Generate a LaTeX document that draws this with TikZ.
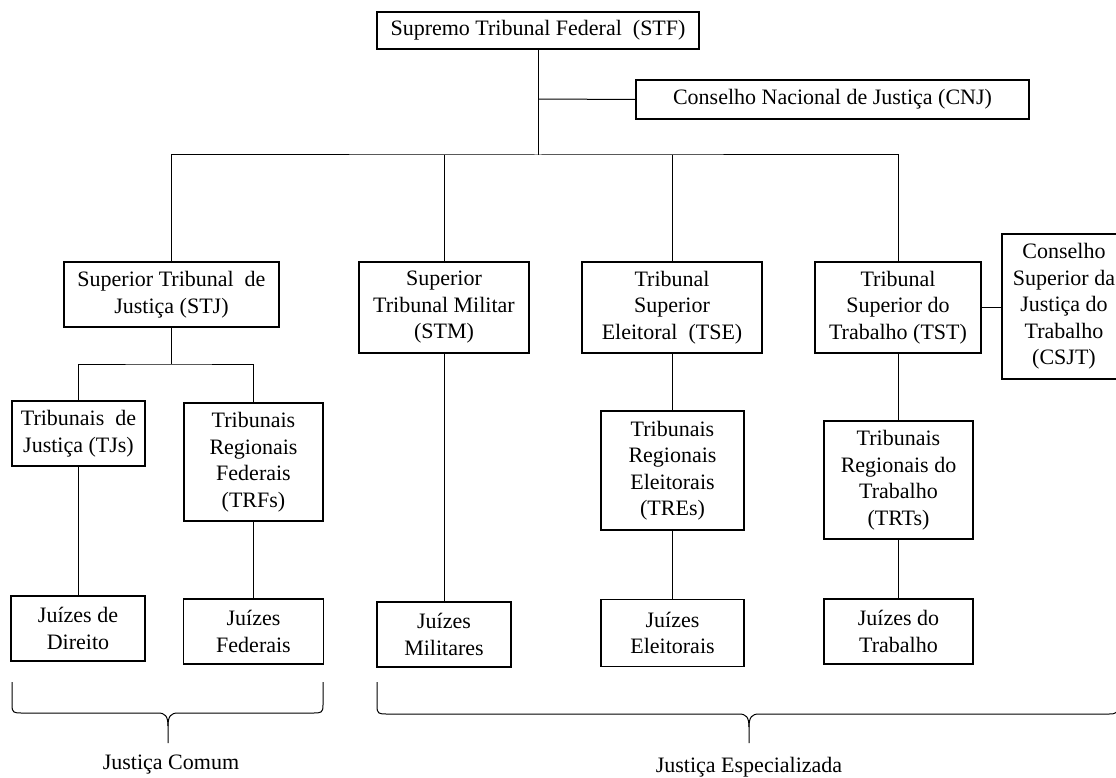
\documentclass[tikz,border=0pt]{standalone}
\usepackage{fontspec}
\setmainfont{Liberation Serif}
\begin{document}
\begin{tikzpicture}[x=1pt,y=-1pt,
  box/.style={draw, line width=1.1pt, align=center, inner sep=0pt, font=\fontsize{22}{26.5}\selectfont},
  conn/.style={line width=1pt},
  lbl/.style={inner sep=0pt, font=\fontsize{22}{26.5}\selectfont}]
\useasboundingbox (0,0) rectangle (1116,778);
\clip (0,0) rectangle (1116,778);
% level 0
\node[box, minimum width=322pt, minimum height=37pt] (STF) at (538,30.5) {Supremo Tribunal Federal\ \ (STF)};
\node[box, minimum width=393pt, minimum height=39pt] (CNJ) at (832.5,99.5) {Conselho Nacional de Justiça (CNJ)};
% level 1
\node[box, minimum width=215pt, minimum height=65pt] (STJ) at (171.5,294.5) {Superior Tribunal\ \ de\\Justiça (STJ)};
\node[box, minimum width=170pt, minimum height=91pt] (STM) at (444,307.5) {Superior\\Tribunal Militar\\(STM)};
\node[box, minimum width=180pt, minimum height=91pt] (TSE) at (672,307.5) {Tribunal\\Superior\\Eleitoral\ \ (TSE)};
\node[box, minimum width=166pt, minimum height=91pt] (TST) at (898,307.5) {Tribunal\\Superior do\\Trabalho (TST)};
\node[box, minimum width=124pt, minimum height=145pt] (CSJT) at (1064,306.5) {Conselho\\Superior da\\Justiça do\\Trabalho\\(CSJT)};
% level 2
\node[box, minimum width=133pt, minimum height=65pt] (TJs) at (78.5,433.5) {Tribunais\ \ de\\Justiça (TJs)};
\node[box, minimum width=139pt, minimum height=118pt] (TRFs) at (253.5,462) {Tribunais\\Regionais\\Federais\\(TRFs)};
\node[box, minimum width=143pt, minimum height=119pt] (TREs) at (672.5,470.5) {Tribunais\\Regionais\\Eleitorais\\(TREs)};
\node[box, minimum width=149pt, minimum height=118pt] (TRTs) at (898.5,480) {Tribunais\\Regionais do\\Trabalho\\(TRTs)};
% level 3
\node[box, minimum width=134pt, minimum height=65pt] (JD) at (78,628.5) {Juízes de\\Direito};
\node[box, minimum width=140pt, minimum height=65pt] (JF) at (253.5,631.5) {Juízes\\Federais};
\node[box, minimum width=134pt, minimum height=65pt] (JM) at (444,634.5) {Juízes\\Militares};
\node[box, minimum width=143pt, minimum height=67pt] (JE) at (672.5,633) {Juízes\\Eleitorais};
\node[box, minimum width=149pt, minimum height=65pt] (JT) at (898.5,631.5) {Juízes do\\Trabalho};
% junctions
\coordinate (j0) at (538,99);
\coordinate (j1) at (538,155);
\coordinate (j2) at (171.5,364);
% connectors
\draw[conn] (STF.south) -- (j1);
\draw[conn] (j0) -- (CNJ.west);
\draw[conn] (STJ.north) |- (j1) -| (TST.north);
\draw[conn] (STM.north) -- (STM.north |- j1);
\draw[conn] (TSE.north) -- (TSE.north |- j1);
\draw[conn] (STJ.south) -- (j2);
\draw[conn] (TJs.north) |- (j2) -| (TRFs.north);
\draw[conn] (TJs.south) -- (JD.north -| TJs.south);
\draw[conn] (TRFs.south) -- (JF.north -| TRFs.south);
\draw[conn] (STM.south) -- (JM.north);
\draw[conn] (TSE.south) -- (TREs.north -| TSE.south);
\draw[conn] (TREs.south) -- (JE.north -| TREs.south);
\draw[conn] (TST.south) -- (TRTs.north -| TST.south);
\draw[conn] (TRTs.south) -- (JT.north -| TRTs.south);
\draw[conn] (TST.east) -- (CSJT.west |- TST.east);
% braces
\draw[conn] (12,682) -- (12,705) .. controls (12,713) and (14,713) .. (22,713) -- (158,713) .. controls (165,713) and (168,716) .. (168,726) -- (168,743);
\draw[conn] (168,726) .. controls (168,716) and (171,713) .. (178,713) -- (313,713) .. controls (321,713) and (323,713) .. (323,705) -- (323,682);
\draw[conn] (377,682) -- (377,706) .. controls (377,714) and (379,714) .. (387,714) -- (739,714) .. controls (746,714) and (749,717) .. (749,727) -- (749,743);
\draw[conn] (749,727) .. controls (749,717) and (752,714) .. (759,714) -- (1109,714) .. controls (1116,714) and (1118,713) .. (1118,705) -- (1118,682);
\node[lbl] (jc) at (171,765) {Justiça Comum};
\node[lbl] (je) at (749,767) {Justiça Especializada};
\end{tikzpicture}
\end{document}
